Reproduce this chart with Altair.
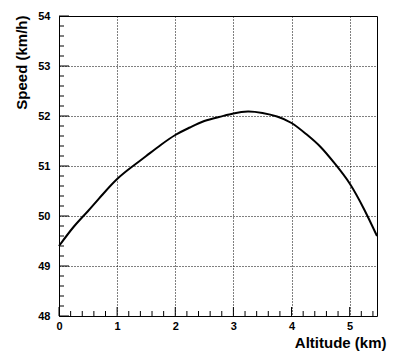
import altair as alt
import pandas as pd

# Curve
altitude = [0.0, 0.25, 0.5, 0.75, 1.0, 1.25, 1.5, 1.75, 2.0, 2.25, 2.5, 2.75,
            3.0, 3.25, 3.5, 3.75, 4.0, 4.25, 4.5, 4.75, 5.0, 5.25, 5.47]
speed = [49.40, 49.78, 50.10, 50.43, 50.74, 50.98, 51.20, 51.42, 51.62, 51.77,
         51.90, 51.98, 52.05, 52.09, 52.06, 51.99, 51.86, 51.64, 51.38, 51.04,
         50.65, 50.13, 49.60]

x_major = [0, 1, 2, 3, 4, 5]
x_minor = [0.2, 0.4, 0.6, 0.8, 1.2, 1.4, 1.6, 1.8, 2.2, 2.4, 2.6, 2.8,
           3.2, 3.4, 3.6, 3.8, 4.2, 4.4, 4.6, 4.8, 5.2, 5.4]
y_major = [48, 49, 50, 51, 52, 53, 54]
y_minor = [48.2, 48.4, 48.6, 48.8, 49.2, 49.4, 49.6, 49.8, 50.2, 50.4, 50.6, 50.8,
           51.2, 51.4, 51.6, 51.8, 52.2, 52.4, 52.6, 52.8, 53.2, 53.4, 53.6, 53.8]

FONT = "Liberation Sans"
W, H = 318, 300

xscale = alt.Scale(domain=[0, 5.47], nice=False, zero=False)
yscale = alt.Scale(domain=[48, 54], nice=False, zero=False)

xaxis = alt.Axis(values=x_major, format="d", title="Altitude (km)",
                 labelPadding=4, labelFlush=False, labelOverlap=False,
                 titleX=W + 9, titleY=31, titleAlign="right", titleAnchor="end",
                 titleBaseline="alphabetic")
yaxis = alt.Axis(values=y_major, format="d", title="Speed (km/h)",
                 labelPadding=9, labelFlush=False, labelOverlap=False,
                 titleX=-33, titleY=-1, titleAngle=270, titleAlign="right",
                 titleAnchor="end", titleBaseline="alphabetic")

curve = pd.DataFrame({"alt": altitude, "speed": speed})

line = alt.Chart(curve).mark_line(color="black", strokeWidth=2, interpolate="natural").encode(
    x=alt.X("alt:Q", scale=xscale, axis=xaxis),
    y=alt.Y("speed:Q", scale=yscale, axis=yaxis),
)

def yticks(vals, length):
    return alt.Chart(pd.DataFrame({"v": vals})).mark_rule(color="black", strokeWidth=1).encode(
        y=alt.Y("v:Q", scale=yscale, axis=yaxis),
        x=alt.value(0), x2=alt.value(length))

def xticks(vals, length):
    return alt.Chart(pd.DataFrame({"v": vals})).mark_rule(color="black", strokeWidth=1).encode(
        x=alt.X("v:Q", scale=xscale, axis=xaxis),
        y=alt.value(H), y2=alt.value(H - length))

chart = alt.layer(
    line,
    yticks(y_major, 10), yticks(y_minor, 5),
    xticks(x_major, 9), xticks(x_minor, 5),
).properties(
    width=W, height=H,
    autosize=alt.AutoSizeParams(type="none"),
    padding={"left": 59, "top": 16, "right": 18, "bottom": 38},
    background="white",
).configure_view(
    stroke="black", strokeWidth=1
).configure_axis(
    domain=False, ticks=False, tickSize=0,
    grid=True, gridColor="black", gridDash=[1, 2], gridOpacity=1, gridWidth=1,
    labelFont=FONT, labelFontSize=11, labelFontWeight="bold", labelColor="black",
    titleFont=FONT, titleFontSize=15, titleFontWeight="bold", titleColor="black",
)

chart.save("out.html", embed_options={"renderer": "svg", "actions": False})
